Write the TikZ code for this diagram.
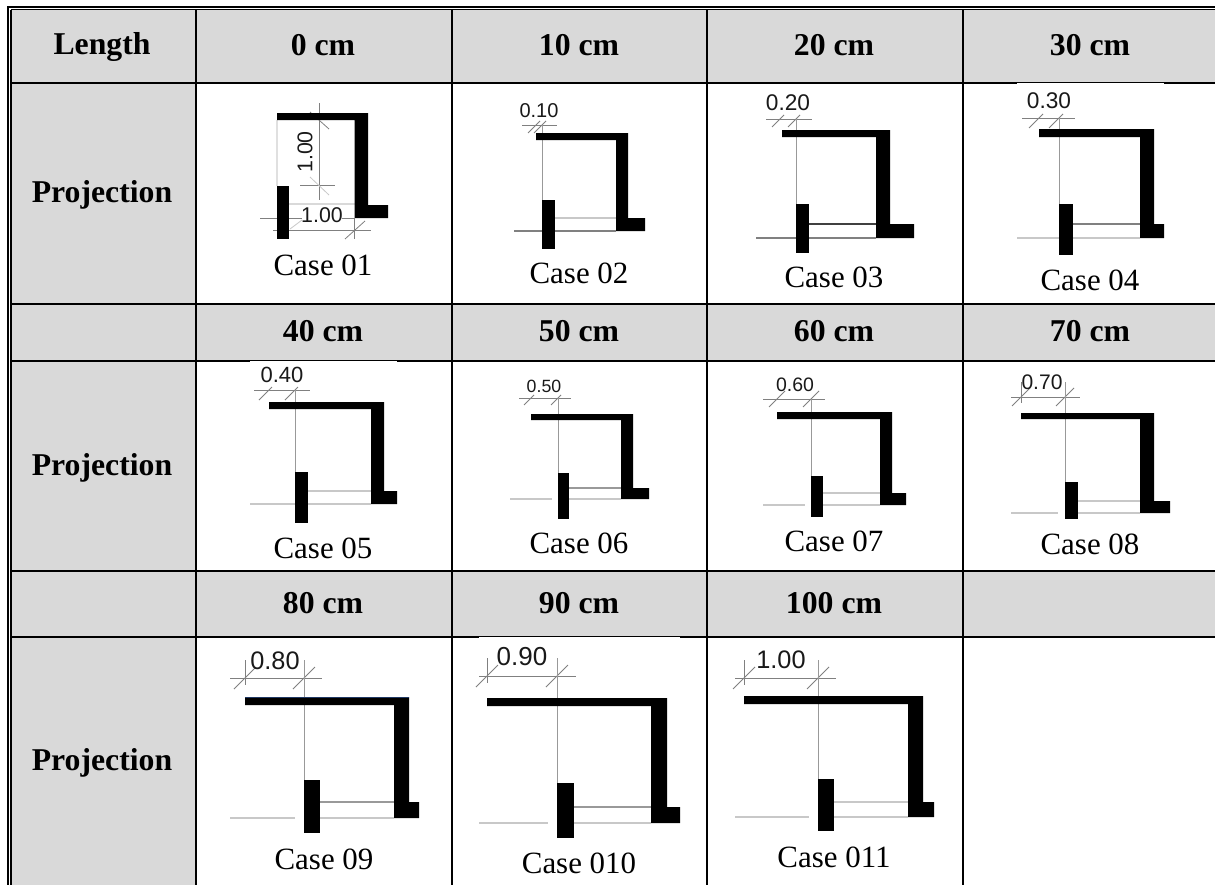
\documentclass[tikz,border=0pt]{standalone}
\usepackage{fontspec}
\setmainfont{Liberation Serif}
\newfontfamily\dimfont{Liberation Sans}
\definecolor{cellgray}{HTML}{D9D9D9}
\definecolor{lineA}{HTML}{C8C8C8}
\definecolor{lineB}{HTML}{999999}
\definecolor{lineC}{HTML}{808080}
\definecolor{lineD}{HTML}{404040}
\definecolor{edgeblue}{HTML}{1F3864}
\tikzset{
  gridline/.style={line width=1.5pt,black},
  wall/.style={fill=black,draw=none},
  dimline/.style={line width=0.7pt,draw=lineC},
  tickline/.style={line width=0.6pt,draw=lineC},
  headtext/.style={inner sep=0pt,anchor=base,font=\fontsize{23.8}{24}\selectfont\bfseries},
  casetext/.style={inner sep=0pt,font=\fontsize{23.2}{24}\selectfont},
  dimtext/.style={inner sep=0pt,text=black!90}
}
\begin{document}
\begin{tikzpicture}[x=0.75pt,y=-0.75pt]
\useasboundingbox (0,0) rectangle (1215,885);
\fill[white] (0,0) rectangle (1215,885);
% shaded cells
\fill[cellgray] (11,9.5) rectangle (1215,82.5);
\fill[cellgray] (11,304) rectangle (1215,361);
\fill[cellgray] (11,571) rectangle (1215,637);
\fill[cellgray] (11,9.5) rectangle (196,885);
% rules
\draw[gridline] (8,7) -- (1215,7);
\draw[line width=0.8pt] (11,9.5) -- (1215,9.5);
\draw[gridline] (8,6.3) -- (8,885);
\draw[line width=0.9pt] (11,9.5) -- (11,885);
\foreach \ry in {82.5,304,361,571,637} \draw[gridline] (11,\ry) -- (1215,\ry);
\foreach \rx in {196,452,707,963} \draw[gridline] (\rx,9.5) -- (\rx,885);
% pasted-picture white patches that trim the rules
\fill[white] (1017,82.7) rectangle (1164,90);
\fill[white] (250,361.2) rectangle (397,364);
\fill[white] (479,637.2) rectangle (680,640);
% headings
\node[headtext] (hLength) at (102,55) {Length};
\foreach \hx/\hy/\htxt/\hn in {323/55.5/0 cm/a,579/55.5/10 cm/b,834/55.5/20 cm/c,1090/55.5/30 cm/d,
  323/341/40 cm/e,579/341/50 cm/f,834/341/60 cm/g,1090/341/70 cm/h,
  323/613/80 cm/i,579/613/90 cm/j,834/613/100 cm/k}
  \node[headtext] (head\hn) at (\hx,\hy) {\htxt};
\foreach \py/\pn in {202/a,475/b,770/c}
  \node[headtext] (proj\pn) at (102,\py) {Projection};
% Case 01
\draw[line width=0.8pt,draw=black!12] (277,120) -- (277,186);
\draw[line width=0.8pt,draw=lineA!70] (289,204) -- (354.5,204);
\draw[tickline] (319,103) -- (319,200);
\draw[tickline] (300,185) -- (335,185);
\draw[tickline,draw=lineC] (310,112) -- (329,129);
\draw[tickline,draw=lineA] (310,177) -- (329,195);
\draw[dimline] (273,230) -- (371,230);
\draw[dimline] (260,218) -- (277,218);
\draw[dimline] (289,218) -- (302,218);
\draw[dimline] (342,218) -- (354.5,218);
\draw[tickline,draw=lineA] (290,229) -- (302,220);
\draw[tickline] (345,239) -- (365,221);
\draw[tickline] (354.5,218) -- (354.5,239);
\fill[wall] (277,113) -- (368,113) -- (368,205) -- (388,205) -- (388,218) -- (354.5,218) -- (354.5,120) -- (277,120) -- cycle;
\fill[wall] (277,186) rectangle (289,239);
\node[dimtext,rotate=90,font=\dimfont\fontsize{16}{16}\selectfont] (dimA) at (305,152) {1.00};
\node[dimtext,font=\dimfont\fontsize{16}{16}\selectfont] (dimB) at (322,215) {1.00};
\node[casetext] (caseA) at (323,265) {Case 01};
% Cases 02 to 011
\foreach \tL/\vL/\vR/\tT/\tB/\bB/\fR/\fT/\sL/\sR/\sT/\sE/\dY/\dL/\dR/\tkA/\tkLo/\tkHi/\up/\bL/\gapL/\colB/\colU/\lab/\lX/\lY/\lS/\cX/\cY/\cN [count=\ci] in {
  536/616/628/133/140/231/645/218/542/555/200/249/125/522/557/536/8/4/0/514/542/lineC/lineA/0.10/539/111/15/579/273/Case 02,
  782/876/890/130/137/238/914/224/796/809/204/253/119/766/812/780/8/4/0/756/796/lineC/lineD/0.20/788/103/17/834/277/Case 03,
  1039/1140/1154/129/137/238/1164/224/1059/1073/204/255/118/1022/1075/1039/10/4/0/1017/1059/lineA/lineC/0.30/1049/101/17/1090/280/Case 04,
  269/371/384/402/409/504/397/491/295/308/472/523/390/254/310/269/10/3/0/250/295/lineA/lineA/0.40/282/375/16.5/323/548/Case 05,
  531/621/633/414/420/499/649/488/558/569/473/519/398/519/571/531/7/3/0/510/552/lineA/lineB/0.50/544/386/13.3/579/543/Case 06,
  777/880/892/412/419/505/906/493/811/823/476/517/399/763/825/777/8/8/0/763/805/lineA/lineA/0.60/795/385/14.6/834/541/Case 07,
  1021/1140/1154/413/419/513/1170/501/1065/1078/482/519/397/1011/1080/1021/9/9/15/1011/1058/lineA/lineA/0.70/1042/382/15.8/1090/544/Case 08,
  245/394/409/697/705/818/419/802/304/320/780/833/678/230/322/245/11/11/18/230/295/lineA/lineB/0.80/275/661/19/324/859/Case 09,
  487/651/667/698/706/823/680/807/557/574/783/838/676/479/576/487/11/11/18/479/548/lineA/lineB/0.90/522/657/19.5/579/863/Case 010,
  744/908/923/696/704/817/934/802/818/834/779/831/678/735/836/744/11/11/18/735/809/lineA/lineA/1.00/781/660/19/834/857/Case 011}
{
  \draw[dimline] (\dL,\dY) -- (\dR,\dY);
  \draw[tickline] (\tkA-\tkLo,\dY+\tkLo) -- (\tkA+\tkHi,\dY-\tkHi);
  \draw[tickline] (\sL-\tkLo,\dY+\tkLo) -- (\sL+\tkHi,\dY-\tkHi);
  \draw[tickline] (\tkA,\dY-\up) -- (\tkA,\dY+0.4*\up);
  \draw[line width=0.7pt,draw=lineB] (\sL,\dY-\up) -- (\sL,\sT);
  \draw[line width=0.9pt,draw=\colB] (\bL,\bB) -- (\gapL,\bB);
  \draw[line width=0.9pt,draw=\colB] (\sR,\bB) -- (\vL,\bB);
  \draw[line width=0.9pt,draw=\colU] (\sR,\fT) -- (\vL,\fT);
  \fill[wall] (\tL,\tT) -- (\vR,\tT) -- (\vR,\fT) -- (\fR,\fT) -- (\fR,\bB) -- (\vL,\bB) -- (\vL,\tB) -- (\tL,\tB) -- cycle;
  \fill[wall] (\sL,\sT) rectangle (\sR,\sE);
  \node[dimtext,font=\dimfont\fontsize{\lS}{\lS}\selectfont] (dim\ci) at (\lX,\lY) {\lab};
  \node[casetext] (case\ci) at (\cX,\cY) {\cN};
}
% thin blue edge on the Case 09 wall
\draw[line width=0.5pt,draw=edgeblue] (245,697) -- (409,697);
\end{tikzpicture}
\end{document}
